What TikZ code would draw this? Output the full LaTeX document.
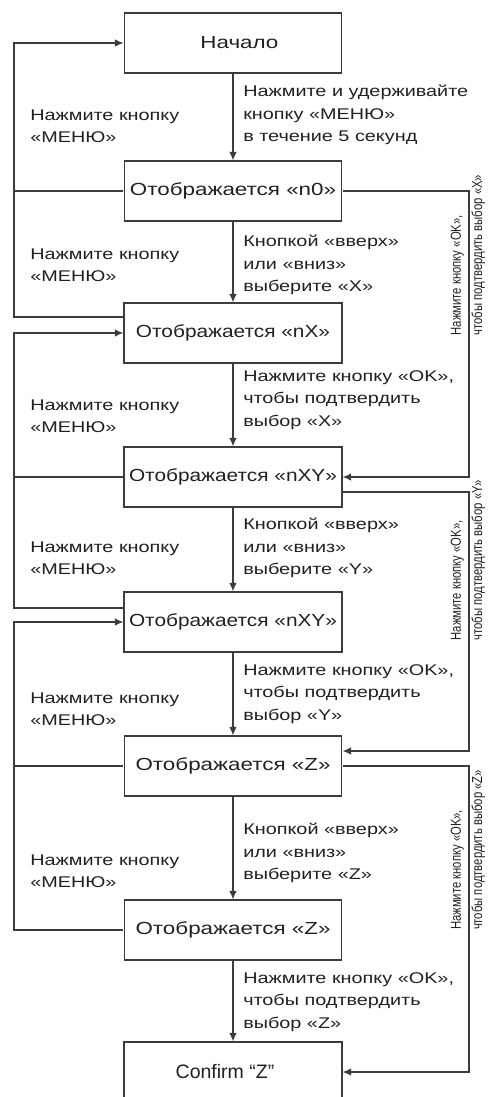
\documentclass[tikz,border=0pt]{standalone}
\usepackage{fontspec}
\setmainfont{Liberation Sans}
\usepackage{xcolor}
\usetikzlibrary{arrows.meta}
\definecolor{inkk}{HTML}{231F20}
\definecolor{wirec}{HTML}{3C3C3C}

\begin{document}
\begin{tikzpicture}[
  x=1pt, y=-1pt,
  stbox/.style   = {draw=wirec, line width=1.2pt, text=inkk, xscale=1.28,
                    minimum width=170pt, minimum height=60pt, inner sep=0pt,
                    font=\fontsize{17.5}{21}\selectfont},
  tight/.style   = {xscale=0.93, minimum width=183pt},
  okbox/.style   = {draw=wirec, line width=1.2pt, text=inkk,
                    minimum width=218pt, minimum height=60pt, inner sep=0pt,
                    font=\fontsize{19.5}{22}\selectfont},
  steplbl/.style = {anchor=west, align=left, inner sep=0pt, text=inkk,
                    xscale=1.28, font=\fontsize{15.5}{22.5}\selectfont},
  oklbl/.style   = {rotate=90, yscale=1.28, align=left, inner sep=0pt,
                    text=inkk, font=\fontsize{11.3}{16.5}\selectfont},
  link/.style    = {draw=wirec, line width=1.2pt},
  arr/.style     = {link, -{Latex[length=8.5pt, width=7.5pt]}},
]
\useasboundingbox (0,0) rectangle (491,1097);
\clip (0,0) rectangle (491,1097);

%% ── states ──────────────────────────────────────────────────────────────────
\node[stbox]        (start)  at (233,  43) {\hspace*{10pt}Начало};
\node[stbox]        (shn0)   at (233, 191) {Отображается «n0»};
\node[stbox, tight] (shnx)   at (233, 333) {Отображается «nX»};
\node[stbox, tight] (shnxy1) at (233, 477) {Отображается «nXY»};
\node[stbox, tight] (shnxy2) at (233, 622) {Отображается «nXY»};
\node[stbox]        (shz1)   at (233, 766) {Отображается «Z»};
\node[stbox]        (shz2)   at (233, 930) {Отображается «Z»};
\node[okbox]        (confirm) at (233,1072) {Confirm “Z”\hspace*{16pt}};

%% ── forward steps ───────────────────────────────────────────────────────────
\draw[arr] (start.south)  -- (shn0.north);
\draw[arr] (shn0.south)   -- (shnx.north);
\draw[arr] (shnx.south)   -- (shnxy1.north);
\draw[arr] (shnxy1.south) -- (shnxy2.north);
\draw[arr] (shnxy2.south) -- (shz1.north);
\draw[arr] (shz1.south)   -- (shz2.north);
\draw[arr] (shz2.south)   -- (confirm.north);

\node[steplbl] (s1) at (243, 115)
  {Нажмите и удерживайте\\кнопку «МЕНЮ»\\в течение 5 секунд};
\node[steplbl] (s2) at (243, 265)
  {Кнопкой «вверх»\\или «вниз»\\выберите «X»};
\node[steplbl] (s3) at (243, 400)
  {Нажмите кнопку «OK»,\\чтобы подтвердить\\выбор «X»};
\node[steplbl] (s4) at (243, 548)
  {Кнопкой «вверх»\\или «вниз»\\выберите «Y»};
\node[steplbl] (s5) at (243, 694)
  {Нажмите кнопку «OK»,\\чтобы подтвердить\\выбор «Y»};
\node[steplbl] (s6) at (243, 853)
  {Кнопкой «вверх»\\или «вниз»\\выберите «Z»};
\node[steplbl] (s7) at (243,1002)
  {Нажмите кнопку «OK»,\\чтобы подтвердить\\выбор «Z»};

%% ── back with МЕНЮ (left) ───────────────────────────────────────────────────
\coordinate (lpa) at (14,  43);
\coordinate (lpb) at (14, 333);
\coordinate (lpc) at (14, 622);

\draw[arr]  ([yshift=16pt]shnx.west) -| (lpa) -- (start.west);
\draw[link] (shn0.west) -- (shn0.west -| lpa);
\draw[arr]  ([yshift=14pt]shnxy2.west) -| (lpb) -- (shnx.west);
\draw[link] (shnxy1.west) -- (shnxy1.west -| lpb);
\draw[arr]  (shz2.west) -| (lpc) -- (shnxy2.west);
\draw[link] (shz1.west) -- (shz1.west -| lpc);

\node[steplbl] (m1) at (30, 126) {Нажмите кнопку\\«МЕНЮ»};
\node[steplbl] (m2) at (30, 265) {Нажмите кнопку\\«МЕНЮ»};
\node[steplbl] (m3) at (30, 416) {Нажмите кнопку\\«МЕНЮ»};
\node[steplbl] (m4) at (30, 558) {Нажмите кнопку\\«МЕНЮ»};
\node[steplbl] (m5) at (30, 709) {Нажмите кнопку\\«МЕНЮ»};
\node[steplbl] (m6) at (30, 871) {Нажмите кнопку\\«МЕНЮ»};

%% ── confirm with OK (right) ─────────────────────────────────────────────────
\coordinate (rga) at (469, 477);
\coordinate (rgb) at (469, 751);
\coordinate (rgc) at (469,1072);

\draw[arr] (shn0.east) -| (rga) -- (shnxy1.east);
\draw[arr] ([yshift=-15pt]shnxy1.east) -| (rgb) -- ([yshift=15pt]shz1.east);
\draw[arr] (shz1.east) -| (rgc) -- (confirm.east);

\node[oklbl] (k1) at (468, 255)
  {Нажмите кнопку «OK»,\\чтобы подтвердить выбор «X»};
\node[oklbl] (k2) at (468, 560)
  {Нажмите кнопку «OK»,\\чтобы подтвердить выбор «Y»};
\node[oklbl] (k3) at (468, 850)
  {Нажмите кнопку «OK»,\\чтобы подтвердить выбор «Z»};

\end{tikzpicture}
\end{document}
